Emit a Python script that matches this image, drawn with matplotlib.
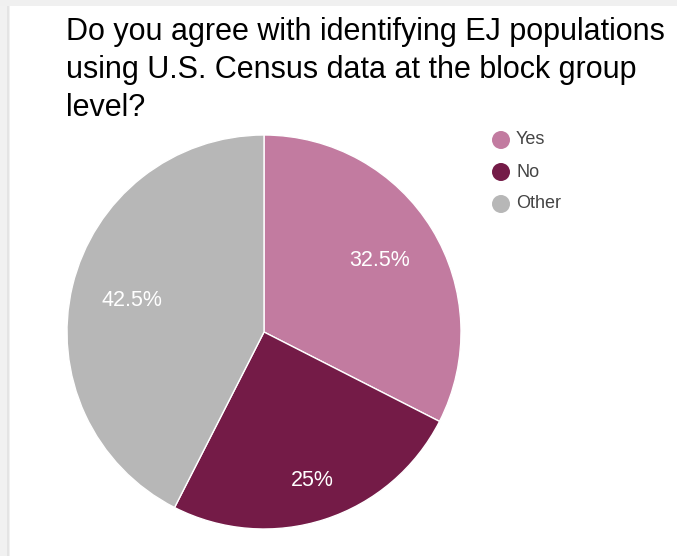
import numpy as np
import matplotlib
matplotlib.use("Agg")
import matplotlib.pyplot as plt
from matplotlib.patches import Rectangle, Ellipse

labels = ['Yes', 'No', 'Other']
shares = [32.5, 25, 42.5]
colors = ['#C27BA0', '#741B47', '#B7B7B7']
label_text = ['32.5%', '25%', '42.5%']
label_radius = [0.69, 0.79, 0.69]
title_lines = ['Do you agree with identifying EJ populations',
               'using U.S. Census data at the block group',
               'level?']

plt.rcParams['font.family'] = ['Liberation Sans', 'DejaVu Sans']

W, H = 677, 556
fig = plt.figure(figsize=(W / 100, H / 100), dpi=100)
fig.patch.set_facecolor('white')

# light frame shadow along top and left edge
fig.patches.append(Rectangle((0, 0), 10 / W, 1, transform=fig.transFigure,
                             facecolor='#f1f1f1', edgecolor='none', zorder=0))
fig.patches.append(Rectangle((7 / W, 0), 2 / W, 1 - 6 / H, transform=fig.transFigure,
                             facecolor='#e4e4e4', edgecolor='none', zorder=0))
fig.patches.append(Rectangle((0, 1 - 6 / H), 1, 6 / H, transform=fig.transFigure,
                             facecolor='#f0f0f0', edgecolor='none', zorder=0))

ax = fig.add_axes([67 / W, 27 / H, 394 / W, 394 / H])
wedges, _ = ax.pie(shares, colors=colors, startangle=90, counterclock=False,
                   radius=1.0, wedgeprops=dict(edgecolor='white', linewidth=1))
ax.set_xlim(-1, 1)
ax.set_ylim(-1, 1)
ax.set_aspect('equal')
ax.axis('off')

for w, txt, r in zip(wedges, label_text, label_radius):
    mid = np.deg2rad((w.theta1 + w.theta2) / 2)
    ax.text(r * np.cos(mid), r * np.sin(mid), txt, color='white', fontsize=15.5,
            ha='center', va='center')

for i, line in enumerate(title_lines):
    fig.text(66 / W, 1 - (40 + 38 * i) / H, line, fontsize=22,
             color='#000000', ha='left', va='baseline')

# legend
for i, (lab, c) in enumerate(zip(labels, colors)):
    y = 1 - (140 + 32 * i) / H
    fig.patches.append(Ellipse((501 / W, y), 18 / W, 18 / H, transform=fig.transFigure,
                               facecolor=c, edgecolor='none'))
    fig.text(516 / W, y, lab, fontsize=13, color='#444444', ha='left', va='center')

fig.savefig('out.png', dpi=100)
